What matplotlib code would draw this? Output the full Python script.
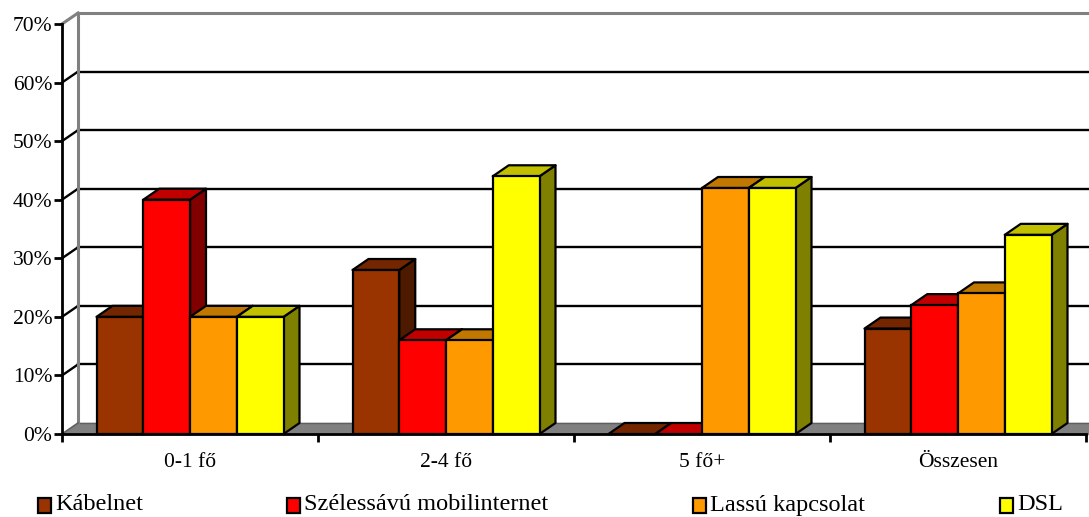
import matplotlib
matplotlib.use("Agg")
import matplotlib.pyplot as plt
from matplotlib.patches import Polygon, Rectangle

categories = ["0-1 fő", "2-4 fő", "5 fő+", "Összesen"]
series = ["Kábelnet", "Szélessávú mobilinternet", "Lassú kapcsolat", "DSL"]
kabelnet = [20, 28, 0, 18]
mobil = [40, 16, 0, 22]
lassu = [20, 16, 42, 24]
dsl = [20, 44, 42, 34]
values = [kabelnet, mobil, lassu, dsl]

# front / top / side shades of each series
front = ["#993300", "#FF0000", "#FF9900", "#FFFF00"]
top = ["#732600", "#C00000", "#C07800", "#C0C000"]
side = ["#4D1A00", "#800000", "#804D00", "#808000"]

FONT = "Liberation Serif"
W, H = 1089, 517
fig = plt.figure(figsize=(W / 100, H / 100), dpi=100)
ax = fig.add_axes([62 / W, (H - 434) / H, 1024 / W, 410 / H])
ax.set_xlim(0, 4)
ax.set_ylim(0, 70)

# depth of the 3d box in data units (16 px right, 11 px up)
dx = 16 / 256
dy = 11 / (410 / 70)
n = len(series)
bw = 187 / 256 / n
off = (1 - n * bw) / 2

def poly(pts, fc, ec="black", lw=1.6, z=3):
    ax.add_patch(Polygon(pts, closed=True, facecolor=fc, edgecolor=ec,
                         linewidth=lw, zorder=z, clip_on=False,
                         joinstyle="round"))

# floor
poly([(0, 0), (4.2, 0), (4.2, dy), (dx, dy)], "#808080", ec="#808080", lw=1, z=1)
ax.plot([dx, 4.2], [dy, dy], color="#606060", lw=1, zorder=1, clip_on=False)

# back wall gridlines and left wall connectors
for v in range(10, 70, 10):
    ax.plot([dx, 4.2], [v + dy, v + dy], color="black", lw=1.7, zorder=1, clip_on=False)
    ax.plot([0, dx], [v, v + dy], color="black", lw=1.7, zorder=1, clip_on=False)
ax.plot([dx, 4.2], [70 + dy, 70 + dy], color="#808080", lw=2.2, zorder=1, clip_on=False)
ax.plot([dx, dx], [dy, 70 + dy], color="#808080", lw=2.2, zorder=1, clip_on=False)
ax.plot([0, dx], [70, 70 + dy], color="#808080", lw=2.2, zorder=1, clip_on=False)
ax.plot([0, dx], [0, dy], color="#606060", lw=1.2, zorder=1, clip_on=False)

# bars, drawn left to right so later bars hide earlier side faces
for g in range(len(categories)):
    for i in range(n):
        v = values[i][g]
        x0 = g + off + i * bw
        x1 = x0 + bw
        poly([(x1, 0), (x1 + dx, dy), (x1 + dx, v + dy), (x1, v)], side[i])
        poly([(x0, v), (x1, v), (x1 + dx, v + dy), (x0 + dx, v + dy)], top[i])
        if v > 0:
            ax.add_patch(Rectangle((x0, 0), bw, v, facecolor=front[i],
                                   edgecolor="black", linewidth=1.6, zorder=3,
                                   clip_on=False))

# axes
for s in ["top", "right"]:
    ax.spines[s].set_visible(False)
ax.spines["left"].set_linewidth(2)
ax.spines["bottom"].set_linewidth(2)
ax.spines["left"].set_zorder(5)
ax.spines["bottom"].set_zorder(5)
ax.set_yticks(range(0, 71, 10))
ax.set_yticklabels([f"{v}%" for v in range(0, 71, 10)], fontfamily=FONT, fontsize=15.5)
ax.set_xticks(range(0, 5))
ax.set_xticklabels([])
ax.set_xticks([g + 0.5 for g in range(4)], minor=True)
ax.set_xticklabels(categories, minor=True, fontfamily=FONT, fontsize=15.5)
ax.tick_params(axis="x", which="minor", length=0, pad=14)
ax.tick_params(axis="both", which="major", direction="out", length=6, width=2, pad=2)
ax.tick_params(axis="y", pad=1)

# legend
leg_x = [38, 287, 693, 1000]
for i, name in enumerate(series):
    fig.patches.append(Rectangle((leg_x[i] / W, (H - 513) / H), 13 / W, 15 / H,
                                 transform=fig.transFigure, facecolor=front[i],
                                 edgecolor="black", linewidth=1.6))
    fig.text((leg_x[i] + 17) / W, (H - 505) / H, name, fontfamily=FONT,
             fontsize=17.5, va="center", ha="left")

fig.savefig("out.png", dpi=100)
